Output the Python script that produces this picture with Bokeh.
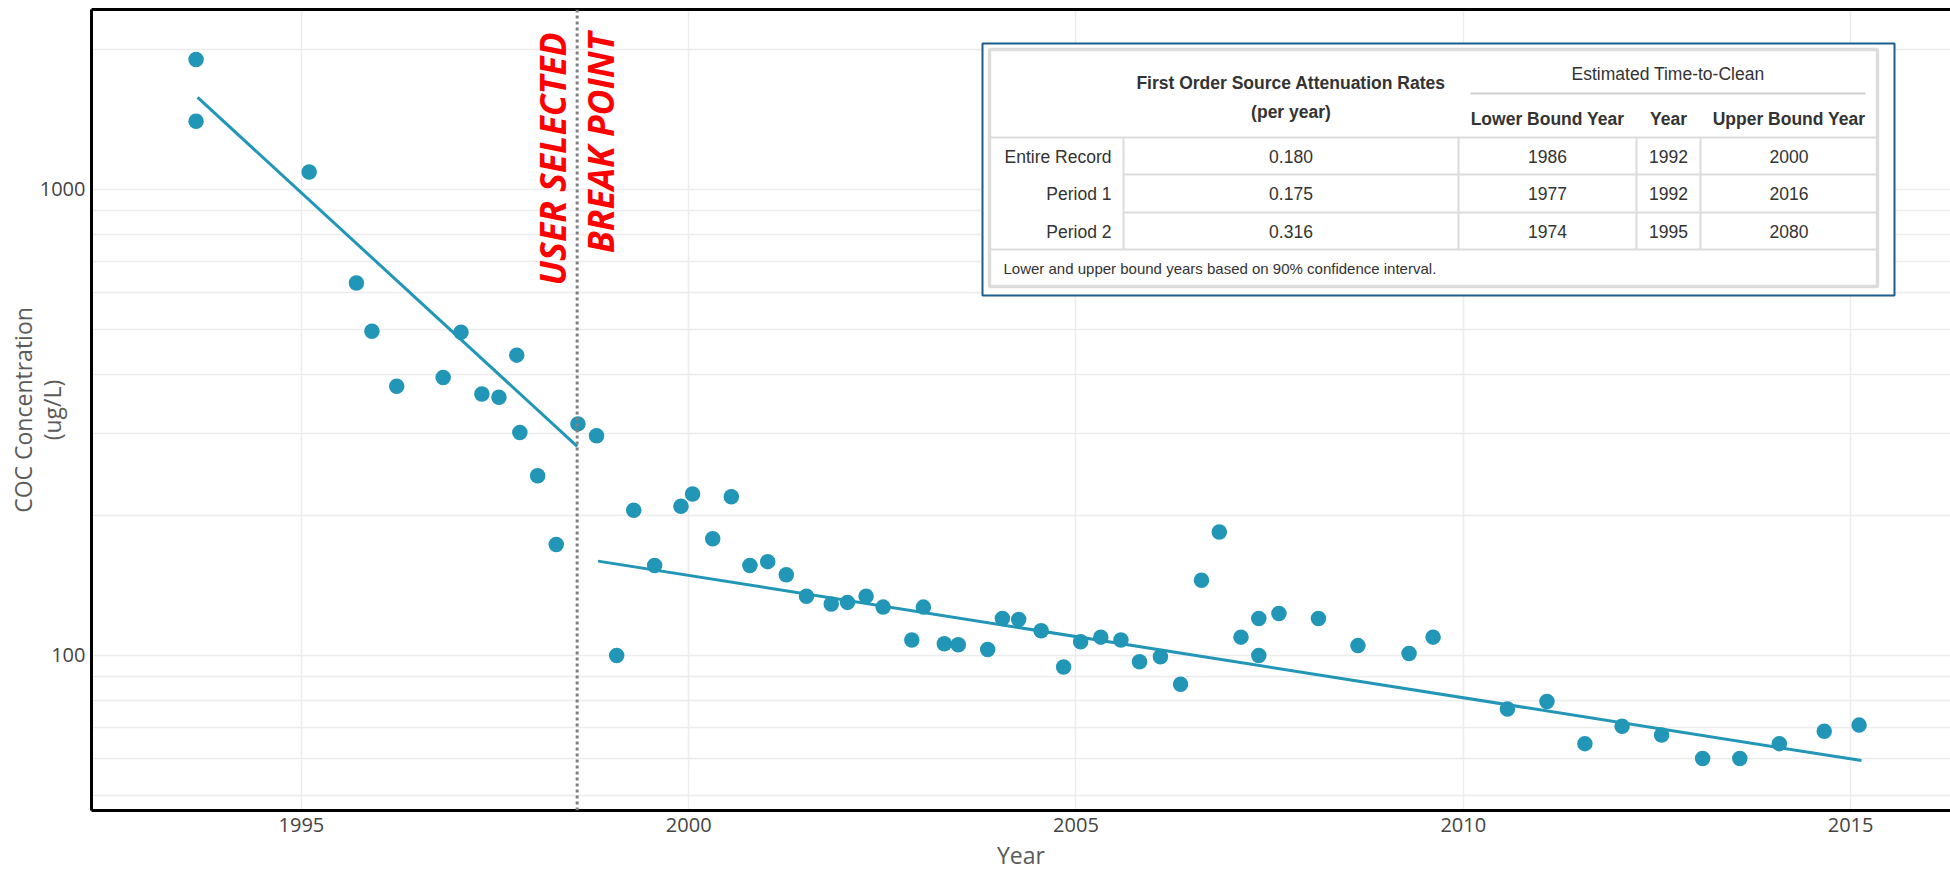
import math

from bokeh.core.properties import value
from bokeh.embed import file_html
from bokeh.models import (FixedTicker, LinearAxis, LinearScale,
                          NumeralTickFormatter, Range1d, Span)
from bokeh.plotting import figure
from bokeh.resources import INLINE

# ---------------------------------------------------------------- data
sample_year = [
    1993.64, 1993.64, 1995.10, 1995.71, 1995.91, 1996.23, 1996.83, 1997.06,
    1997.33, 1997.55, 1997.78, 1997.82, 1998.05, 1998.29, 1998.57, 1998.81,
    1999.07, 1999.29, 1999.56, 1999.90, 2000.05, 2000.31, 2000.55, 2000.79,
    2001.02, 2001.26, 2001.52, 2001.84, 2002.05, 2002.29, 2002.51, 2002.88,
    2003.03, 2003.30, 2003.48, 2003.86, 2004.05, 2004.26, 2004.55, 2004.84,
    2005.06, 2005.32, 2005.58, 2005.82, 2006.09, 2006.35, 2006.62, 2006.85,
    2007.13, 2007.36, 2007.36, 2007.62, 2008.13, 2008.64, 2009.30, 2009.61,
    2010.57, 2011.08, 2011.57, 2012.05, 2012.56, 2013.09, 2013.57, 2014.08,
    2014.66, 2015.11,
]
coc_ugl = [
    1900, 1400, 1090, 630, 496, 378, 395, 494,
    364, 358, 441, 301, 243, 173, 314, 296,
    100, 205, 156, 209, 222, 178, 219, 156,
    159, 149, 134, 129, 130, 134, 127, 108,
    127, 106, 105.5, 103, 120, 119.5, 113, 94.5,
    107, 109.5, 108, 97, 99.4, 86.8, 145, 184,
    109.5, 120, 100, 123, 120, 105, 101, 109.5,
    76.8, 79.7, 64.7, 70.5, 67.5, 60.1, 60.1, 64.7,
    68.8, 70.9,
]

# first-order fits on each side of the break point
period1_fit_year = [1993.66, 1998.56]
period1_fit_coc = [1575, 281]
period2_fit_year = [1998.83, 2015.14]
period2_fit_coc = [159.4, 59.5]
break_year = 1998.56

x_ticks = [1995, 2000, 2005, 2010, 2015]
y_major_ticks = [100, 1000]
y_minor_ticks = [50, 60, 70, 80, 90, 200, 300, 400, 500, 600, 700, 800, 900, 2000]

# attenuation summary table
row_names = ["Entire Record", "Period 1", "Period 2"]
attenuation_rate = ["0.180", "0.175", "0.316"]
lower_bound_year = ["1986", "1977", "1974"]
clean_year = ["1992", "1992", "1995"]
upper_bound_year = ["2000", "2016", "2080"]
footnote = "Lower and upper bound years based on 90% confidence interval."

# ---------------------------------------------------------------- layout
W, H = 1950, 874
FL, FR, FT, FB = 91, 1950, 9, 810   # frame edges in page pixels

TEAL = "#2196b6"
FONT = "Open Sans"
TFONT = "Liberation Sans"

p = figure(
    width=W, height=H, y_axis_type="log",
    x_range=Range1d(1992.29, 2016.29), y_range=Range1d(46.5, 2432),
    output_backend="svg", toolbar_location=None,
    min_border_left=FL, min_border_right=W - FR,
    min_border_top=FT, min_border_bottom=H - FB,
)
p.outline_line_color = None
p.background_fill_color = "white"
p.border_fill_color = "white"

# pixel space used for the overlay table and the annotation text
p.extra_x_ranges = {"px": Range1d(FL, FR)}
p.extra_y_ranges = {"px": Range1d(FB, FT)}
p.extra_x_scales = {"px": LinearScale()}
p.extra_y_scales = {"px": LinearScale()}

xt = FixedTicker(ticks=x_ticks)
yt = FixedTicker(ticks=y_major_ticks, minor_ticks=y_minor_ticks)
p.xaxis.ticker = xt
p.xgrid.ticker = xt
p.yaxis.ticker = yt
p.ygrid.ticker = yt
p.xaxis.formatter = NumeralTickFormatter(format="0")
p.yaxis.formatter = NumeralTickFormatter(format="0")

for ax in (p.xaxis, p.yaxis):
    ax.axis_line_color = "black"
    ax.axis_line_width = 3
    ax.major_tick_line_color = None
    ax.minor_tick_line_color = None
    ax.major_tick_out = 0
    ax.major_tick_in = 0
    ax.minor_tick_out = 0
    ax.minor_tick_in = 0
    ax.major_label_text_font = FONT
    ax.major_label_text_font_size = "20px"
    ax.major_label_text_color = "#444444"
    ax.axis_label_text_font = FONT
    ax.axis_label_text_font_size = "23px"
    ax.axis_label_text_font_style = "normal"
    ax.axis_label_text_color = "#5a5a5a"
p.xaxis.major_label_standoff = 7
p.yaxis.major_label_standoff = 6

p.xaxis.axis_label = "Year"
p.xaxis.axis_label_standoff = 4
p.yaxis.axis_label = "COC Concentration\n(ug/L)"
p.yaxis.axis_label_standoff = -31
p.yaxis.axis_label_text_line_height = 0.89

p.xgrid.grid_line_color = "#ececec"
p.xgrid.grid_line_width = 1.5
p.ygrid.grid_line_color = "#ececec"
p.ygrid.grid_line_width = 1.5
p.ygrid.minor_grid_line_color = "#ececec"
p.ygrid.minor_grid_line_width = 1.5

# top frame border
top_axis = LinearAxis(
    ticker=FixedTicker(ticks=[]), major_label_text_font_size="0px",
    major_tick_line_color=None, minor_tick_line_color=None,
    major_tick_out=0, major_tick_in=0, minor_tick_out=0, minor_tick_in=0,
    axis_line_color="black", axis_line_width=3,
)
p.add_layout(top_axis, "above")

# break point marker
p.add_layout(Span(location=break_year, dimension="height",
                  line_color="#808080", line_width=3, line_dash="3 3"))

# fits and samples
p.line(period1_fit_year, period1_fit_coc, line_color=TEAL, line_width=3)
p.line(period2_fit_year, period2_fit_coc, line_color=TEAL, line_width=3)
p.scatter(sample_year, coc_ugl, size=15.5, fill_color=TEAL, line_color=None)

# break point annotation
p.text(x=[break_year - 0.32, break_year + 0.30], y=[32, 32],
       text=["USER SELECTED", "BREAK POINT"], angle=math.pi / 2,
       text_align="right", text_baseline="middle",
       text_font=value(FONT), text_font_style="bold italic",
       text_font_size="35.5px", text_color="#ff0000", y_range_name="px")

# ---------------------------------------------------------------- table
px = dict(x_range_name="px", y_range_name="px")
GRID = "#dcdcdc"
col_edges = [989, 1123, 1458, 1636, 1700, 1877]
col_mid = [(col_edges[i] + col_edges[i + 1]) / 2 for i in range(5)]
head_bottom, foot_top = 137, 249
row_lines = [174, 212]
row_mid = [156, 193, 231]

p.quad(left=[982], right=[1894], top=[43], bottom=[295],
       fill_color="white", line_color="#1b5e8c", line_width=2, **px)
p.quad(left=[col_edges[0]], right=[col_edges[-1]], top=[49], bottom=[286],
       fill_color="white", line_color=GRID, line_width=3.5, **px)

seg_x0 = [col_edges[0], col_edges[0]] + col_edges[1:5] + [col_edges[1]] * 2
seg_x1 = [col_edges[-1], col_edges[-1]] + col_edges[1:5] + [col_edges[-1]] * 2
seg_y0 = [head_bottom, foot_top] + [head_bottom] * 4 + row_lines
seg_y1 = [head_bottom, foot_top] + [foot_top] * 4 + row_lines
p.segment(x0=seg_x0, y0=seg_y0, x1=seg_x1, y1=seg_y1,
          line_color=GRID, line_width=2, **px)
p.segment(x0=[col_edges[2] + 12], y0=[93], x1=[col_edges[-1] - 12], y1=[93],
          line_color="#cfcfcf", line_width=2, **px)

tstyle = dict(text_font=value(TFONT), text_color="#333333",
              text_baseline="middle", **px)
p.text(x=[col_mid[1], col_mid[1], col_mid[2], col_mid[3], col_mid[4]],
       y=[82, 111, 118, 118, 118],
       text=["First Order Source Attenuation Rates", "(per year)",
             "Lower Bound Year", "Year", "Upper Bound Year"],
       text_align="center", text_font_style="bold", text_font_size="17.5px",
       **tstyle)
p.text(x=[(col_edges[2] + col_edges[-1]) / 2], y=[73],
       text=["Estimated Time-to-Clean"], text_align="center",
       text_font_size="17.5px", **tstyle)
p.text(x=[col_edges[1] - 12] * 3, y=row_mid, text=row_names,
       text_align="right", text_font_size="17.5px", **tstyle)
for ci, column in zip(range(1, 5), [attenuation_rate, lower_bound_year,
                                    clean_year, upper_bound_year]):
    p.text(x=[col_mid[ci]] * 3, y=row_mid, text=column,
           text_align="center", text_font_size="17.5px", **tstyle)
p.text(x=[col_edges[0] + 14], y=[268], text=[footnote], text_align="left",
       text_font_size="15px", **tstyle)

open("out.html", "w").write(file_html(p, INLINE))
